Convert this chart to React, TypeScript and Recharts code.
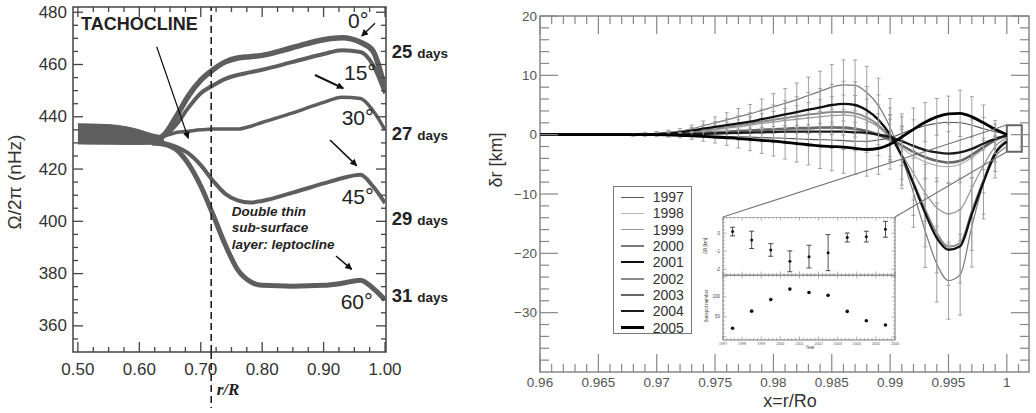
import React from 'react';
import {
  ComposedChart, Line, Area, XAxis, YAxis, ReferenceLine, ReferenceArea, ErrorBar,
  ScatterChart, Scatter
} from 'recharts';

const FONT = '"Liberation Sans", Arial, Helvetica, sans-serif';

// ---------- left panel: rotation rate vs r/R ----------
const radius = [0.5, 0.55, 0.6, 0.62, 0.64, 0.66, 0.68, 0.7, 0.72, 0.74, 0.76, 0.78, 0.8, 0.85, 0.9, 0.93, 0.96, 0.98, 1.0];
const trunkLow = [429.6, 429.5, 429.4, 429.5, 429.8];
const trunkHigh = [437.3, 437.0, 435.0, 433.5, 432.6];
const lat0 = [null, null, null, 431, 433, 440, 448, 454, 458, 461, 462.5, 463, 463.5, 466.5, 469.5, 470.2, 468.5, 465.3, 450.5];
const lat15 = [null, null, null, 431, 432.5, 437, 443.5, 449, 452, 454.5, 456, 457, 458, 461, 464, 465.5, 464.8, 460, 449];
const lat30 = [null, null, null, 431, 432.5, 434, 434.5, 435, 435.3, 435.3, 435.3, 436.3, 437.8, 441.5, 445.5, 447.5, 447, 442.5, 435];
const lat45 = [null, null, null, 430.5, 430, 428.5, 426, 421.5, 415.5, 410.5, 408, 407.2, 407.8, 411, 414.5, 416.5, 417.8, 413.5, 407];
const lat60 = [null, null, null, 430, 429.5, 427.5, 422, 413.5, 402.5, 391, 381.5, 377, 375.5, 375.2, 375.5, 376.3, 377.5, 374.5, 370];
const latNames = ['0', '15', '30', '45', '60'];
const periodNames = ['25', '27', '29', '31'];
const tachocline = 0.717;

// ---------- right panel: δr vs x = r/Ro ----------
const rX = [0.96, 0.965, 0.968, 0.969, 0.97, 0.971, 0.972, 0.973, 0.974, 0.975, 0.976, 0.977, 0.978, 0.979, 0.98, 0.981, 0.982, 0.983, 0.984, 0.985, 0.986, 0.987, 0.988, 0.989, 0.99, 0.991, 0.992, 0.993, 0.994, 0.995, 0.996, 0.997, 0.998, 0.999, 1.0];
const y1997 = [0, 0, 0, 0, 0, -0.05, -0.1, -0.15, -0.2, -0.25, -0.3, -0.35, -0.4, -0.5, -0.55, -0.6, -0.7, -0.8, -0.85, -0.9, -1.0, -1.1, -1.1, -0.9, -0.5, 0.2, 0.9, 1.5, 1.9, 2.1, 2.0, 1.6, 1.0, 0.5, 0.1];
const y1998 = [0, 0, 0, 0, 0, 0.05, 0.1, 0.2, 0.3, 0.4, 0.5, 0.6, 0.7, 0.8, 0.9, 0.9, 1.0, 1.0, 1.1, 1.1, 1.0, 0.8, 0.4, -0.2, -1.1, -2.3, -3.6, -4.6, -5.2, -5.4, -5.0, -3.9, -2.4, -1.0, -0.1];
const y1999 = [0, 0, 0, 0.05, 0.1, 0.2, 0.3, 0.4, 0.6, 0.8, 1.1, 1.3, 1.6, 1.9, 2.1, 2.4, 2.6, 2.8, 3.0, 3.2, 3.3, 3.1, 2.4, 1.3, -0.6, -3.3, -6.5, -9.8, -12.3, -13.3, -12.6, -9.0, -5.2, -2.0, -0.5];
const y2000 = [0, 0, 0, 0.1, 0.2, 0.4, 0.6, 1.0, 1.5, 2.0, 2.5, 3.0, 3.5, 4.1, 4.7, 5.3, 5.9, 6.6, 7.3, 8.0, 8.4, 8.3, 7.1, 4.9, 1.2, -3.8, -9.8, -16.2, -21.8, -24.6, -23.6, -15.5, -8.2, -3.8, -2.0];
const y2001 = [0, 0, 0, 0.05, 0.1, 0.2, 0.4, 0.7, 1.0, 1.3, 1.6, 1.9, 2.2, 2.6, 3.0, 3.4, 3.8, 4.2, 4.6, 5.0, 5.2, 5.0, 4.1, 2.5, 0.0, -3.6, -8.3, -13.2, -17.4, -19.4, -18.8, -13.4, -8.0, -3.2, -1.2];
const y2002 = [0, 0, 0, 0.05, 0.1, 0.2, 0.3, 0.5, 0.8, 1.0, 1.3, 1.6, 1.9, 2.2, 2.5, 2.8, 3.1, 3.4, 3.6, 3.8, 3.8, 3.6, 2.9, 1.6, -0.4, -3.6, -8.0, -12.6, -16.6, -18.9, -18.3, -12.9, -7.6, -3.0, -1.0];
const y2003 = [0, 0, 0, 0, 0, 0.05, 0.1, 0.2, 0.3, 0.4, 0.5, 0.6, 0.7, 0.8, 0.9, 1.0, 1.1, 1.1, 1.2, 1.2, 1.2, 1.0, 0.6, 0.0, -0.8, -1.8, -2.9, -3.8, -4.4, -4.7, -4.4, -3.4, -2.1, -0.9, -0.1];
const y2004 = [0, 0, 0, 0, 0, 0, 0.05, 0.1, 0.15, 0.2, 0.25, 0.3, 0.35, 0.4, 0.45, 0.5, 0.5, 0.5, 0.5, 0.5, 0.5, 0.4, 0.3, 0.0, -0.4, -1.1, -1.9, -2.6, -3.0, -3.2, -3.0, -2.4, -1.5, -0.7, -0.2];
const y2005 = [0, 0, 0, 0, 0, -0.05, -0.1, -0.2, -0.3, -0.4, -0.5, -0.65, -0.8, -0.95, -1.1, -1.3, -1.5, -1.7, -1.9, -2.0, -2.1, -2.3, -2.5, -2.3, -1.6, -0.4, 0.9, 2.1, 3.0, 3.5, 3.6, 3.0, 2.0, 0.9, 0.0];
const e1999 = [null, null, 0.15, 0.2, 0.2, 0.25, 0.3, 0.4, 0.6, 0.8, 1.0, 1.2, 1.4, 1.6, 1.8, 2.0, 2.3, 2.6, 2.9, 3.2, 3.4, 3.5, 3.6, 3.7, 3.9, 4.2, 4.5, 4.8, 5.0, 5.2, 5.3, 5.1, 4.6, 2.6, null];
const e2000 = [null, null, 0.2, 0.25, 0.3, 0.35, 0.4, 0.6, 0.8, 1.0, 1.2, 1.4, 1.6, 1.9, 2.2, 2.5, 2.8, 3.1, 3.4, 3.8, 4.2, 4.3, 4.4, 4.6, 4.9, 5.3, 5.8, 6.2, 6.4, 6.5, 6.8, 6.8, 6.0, 3.5, null];
const e2001 = [null, null, 0.2, 0.2, 0.25, 0.3, 0.3, 0.5, 0.7, 0.9, 1.1, 1.3, 1.5, 1.7, 2.0, 2.3, 2.6, 2.9, 3.2, 3.5, 3.8, 3.9, 4.0, 4.2, 4.5, 4.9, 5.3, 5.7, 5.9, 6.0, 6.2, 6.1, 5.4, 3.0, null];
const e2004 = [null, null, 0.15, 0.2, 0.2, 0.25, 0.3, 0.4, 0.6, 0.8, 1.0, 1.2, 1.4, 1.6, 1.8, 2.0, 2.2, 2.4, 2.6, 2.8, 3.0, 3.1, 3.3, 3.5, 3.8, 4.1, 4.4, 4.7, 4.9, 5.0, 5.1, 4.9, 4.4, 2.5, null];
const e2005 = [null, null, 0.2, 0.25, 0.3, 0.35, 0.4, 0.6, 0.8, 1.0, 1.3, 1.6, 1.9, 2.2, 2.5, 2.8, 3.1, 3.4, 3.8, 4.1, 4.4, 4.4, 4.5, 4.4, 4.2, 3.9, 3.6, 3.3, 3.1, 3.0, 3.9, 3.4, 3.0, 1.5, null];

const years = [1997, 1998, 1999, 2000, 2001, 2002, 2003, 2004, 2005];
const yearValues = [y1997, y1998, y1999, y2000, y2001, y2002, y2003, y2004, y2005];
const yearErrors: any[] = [null, null, e1999, e2000, e2001, null, null, e2004, e2005];
const yearStyles = [
  { stroke: '#555', width: 1.1 },
  { stroke: '#b4b4b4', width: 1.3 },
  { stroke: '#9a9a9a', width: 1.3 },
  { stroke: '#7a7a7a', width: 1.2 },
  { stroke: '#111', width: 2.3 },
  { stroke: '#8a8a8a', width: 2.0 },
  { stroke: '#666', width: 2.6 },
  { stroke: '#1a1a1a', width: 2.3 },
  { stroke: '#000', width: 2.8 },
];
const drawOrder = [1, 2, 3, 0, 5, 6, 4, 7, 8];

// ---------- inset ----------
const deltaR = [0.09, -0.37, -0.93, -1.56, -1.3, -1.08, -0.24, -0.19, 0.22];
const deltaRErr = [0.24, 0.48, 0.35, 0.58, 0.63, 1.0, 0.25, 0.3, 0.44];
const sunspots = [21.5, 64.3, 93.3, 119.6, 111.0, 104.0, 63.7, 40.4, 29.8];

const seq = (a: number, b: number, step: number, digits: number) => {
  const out: number[] = [];
  const n = Math.round((b - a) / step);
  for (let i = 0; i <= n; i++) out.push(+(a + i * step).toFixed(digits));
  return out;
};

const leftRows = radius.map((x, i) => {
  const r: any = { x, lat0: lat0[i], lat15: lat15[i], lat30: lat30[i], lat45: lat45[i], lat60: lat60[i] };
  if (i < trunkLow.length) r.trunk = [trunkLow[i], trunkHigh[i]];
  return r;
});

const rightRows = rX.map((x, i) => {
  const r: any = { x };
  years.forEach((yr, k) => {
    r['y' + yr] = yearValues[k][i];
    if (yearErrors[k]) r['e' + yr] = yearErrors[k][i];
  });
  return r;
});

const insetTop = years.map((yr, i) => ({ x: yr + 0.5, y: deltaR[i], e: deltaRErr[i] }));
const insetBottom = years.map((yr, i) => ({ x: yr + 0.5, y: sunspots[i] }));

type TickCfg = {
  axis: 'x' | 'y'; span: number; isMajor: (v: number) => boolean;
  majorLen: number; minorLen: number; label?: (v: number) => string;
  gap: number; fontSize: number; color: string; stroke: string; sw: number;
};

// inward ticks on both sides of the frame, label only on majors
const makeTick = (c: TickCfg) => (props: any) => {
  const { x, y, payload } = props;
  const v = payload.value;
  const major = c.isMajor(v);
  const len = major ? c.majorLen : c.minorLen;
  const txt = major && c.label ? c.label(v) : '';
  if (c.axis === 'x') {
    return (
      <g>
        <line x1={x} y1={y} x2={x} y2={y - len} stroke={c.stroke} strokeWidth={c.sw} />
        <line x1={x} y1={y - c.span} x2={x} y2={y - c.span + len} stroke={c.stroke} strokeWidth={c.sw} />
        {txt ? <text x={x} y={y + c.gap} textAnchor="middle" fontSize={c.fontSize} fill={c.color} fontFamily={FONT}>{txt}</text> : null}
      </g>
    );
  }
  return (
    <g>
      <line x1={x} y1={y} x2={x + len} y2={y} stroke={c.stroke} strokeWidth={c.sw} />
      <line x1={x + c.span} y1={y} x2={x + c.span - len} y2={y} stroke={c.stroke} strokeWidth={c.sw} />
      {txt ? <text x={x - c.gap} y={y} textAnchor="end" dominantBaseline="central" fontSize={c.fontSize} fill={c.color} fontFamily={FONT}>{txt}</text> : null}
    </g>
  );
};

const isInt = (v: number, k: number) => Math.abs(v * k - Math.round(v * k)) < 1e-6;
const minusFmt = (v: number) => (v < 0 ? '\u2212' + Math.abs(v) : String(v));

const LeftChart = () => (
  <ComposedChart width={470} height={413} data={leftRows} margin={{ top: 7, right: 84, bottom: 31, left: 13 }}>
    <XAxis
      dataKey="x" type="number" domain={[0.492, 1.0016]} allowDataOverflow
      ticks={seq(0.5, 1.0, 0.025, 3)} interval={0} height={30}
      axisLine={false} tickLine={false} tickSize={0} tickMargin={0}
      tick={makeTick({ axis: 'x', span: 345, isMajor: v => isInt(v, 10), majorLen: 10, minorLen: 5, label: v => v.toFixed(2), gap: 23, fontSize: 17, color: '#333', stroke: '#444', sw: 1.3 })}
    />
    <YAxis
      type="number" domain={[350, 482]} allowDataOverflow
      ticks={seq(355, 480, 5, 0)} interval={0} width={60}
      axisLine={false} tickLine={false} tickSize={0} tickMargin={0}
      tick={makeTick({ axis: 'y', span: 313, isMajor: v => v % 20 === 0, majorLen: 10, minorLen: 5, label: v => String(v), gap: 6, fontSize: 17, color: '#333', stroke: '#444', sw: 1.3 })}
    />
    <Area dataKey="trunk" type="monotone" stroke="#5e5e5e" strokeWidth={1} fill="#5e5e5e" fillOpacity={1} isAnimationActive={false} />
    <Line dataKey="lat60" type="monotone" stroke="#5e5e5e" strokeWidth={5} dot={false} activeDot={false} isAnimationActive={false} />
    <Line dataKey="lat45" type="monotone" stroke="#5e5e5e" strokeWidth={4} dot={false} activeDot={false} isAnimationActive={false} />
    <Line dataKey="lat30" type="monotone" stroke="#5e5e5e" strokeWidth={3.5} dot={false} activeDot={false} isAnimationActive={false} />
    <Line dataKey="lat15" type="monotone" stroke="#5e5e5e" strokeWidth={4} dot={false} activeDot={false} isAnimationActive={false} />
    <Line dataKey="lat0" type="monotone" stroke="#5e5e5e" strokeWidth={5.5} dot={false} activeDot={false} isAnimationActive={false} />
    <ReferenceLine x={tachocline} stroke="#222" strokeWidth={1.6} strokeDasharray="7 4" />
    <ReferenceArea x1={0.492} x2={1.0016} y1={350} y2={482} fill="none" fillOpacity={0} stroke="#444" strokeWidth={1.5} ifOverflow="visible" />
  </ComposedChart>
);

const RightChart = () => (
  <ComposedChart width={556} height={413} data={rightRows} margin={{ top: 16, right: 7, bottom: 16, left: 10 }}>
    <XAxis
      dataKey="x" type="number" domain={[0.96, 1.0019]} allowDataOverflow
      ticks={seq(0.96, 1.001, 0.001, 3)} interval={0} height={25}
      axisLine={false} tickLine={false} tickSize={0} tickMargin={0}
      tick={makeTick({ axis: 'x', span: 356, isMajor: v => isInt(v, 200), majorLen: 18, minorLen: 8, label: v => String(+v.toFixed(3)), gap: 15, fontSize: 13.5, color: '#555', stroke: '#888', sw: 1.2 })}
    />
    <YAxis
      type="number" domain={[-40, 20]} allowDataOverflow
      ticks={seq(-38, 20, 2, 0)} interval={0} width={50}
      axisLine={false} tickLine={false} tickSize={0} tickMargin={0}
      tick={makeTick({ axis: 'y', span: 489, isMajor: v => v % 10 === 0, majorLen: 18, minorLen: 9, label: minusFmt, gap: 3, fontSize: 13.5, color: '#555', stroke: '#888', sw: 1.2 })}
    />
    {drawOrder.map(k => (
      <Line
        key={years[k]}
        dataKey={'y' + years[k]}
        type="monotone"
        stroke={yearStyles[k].stroke}
        strokeWidth={yearStyles[k].width}
        dot={false}
        activeDot={false}
        isAnimationActive={false}
      >
        {yearErrors[k] ? <ErrorBar dataKey={'e' + years[k]} direction="y" width={2} stroke="#a0a0a0" strokeWidth={1} /> : null}
      </Line>
    ))}
    <ReferenceArea x1={1.0} x2={1.00128} y1={-2.9} y2={1.6} fill="#fff" fillOpacity={1} stroke="#666" strokeWidth={2} ifOverflow="visible" />
    <ReferenceArea x1={0.96} x2={1.0019} y1={-40} y2={20} fill="none" fillOpacity={0} stroke="#888" strokeWidth={1.5} ifOverflow="visible" />
  </ComposedChart>
);

const dot = (r: number) => (p: any) => <circle cx={p.cx} cy={p.cy} r={r} fill="#111" />;

const InsetTop = () => (
  <ScatterChart width={197} height={59} margin={{ top: 0, right: 2, bottom: 0, left: 0 }}>
    <XAxis
      dataKey="x" type="number" domain={[1997, 2006]} allowDataOverflow
      ticks={seq(1997, 2006, 0.2, 1)} interval={0} height={1}
      axisLine={false} tickLine={false} tickSize={0} tickMargin={0}
      tick={makeTick({ axis: 'x', span: 58, isMajor: v => isInt(v, 1), majorLen: 3.5, minorLen: 1.8, gap: 0, fontSize: 4, color: '#555', stroke: '#777', sw: 0.6 })}
    />
    <YAxis
      dataKey="y" type="number" domain={[-2.32, 0.9]} allowDataOverflow
      ticks={seq(-2.2, 0.8, 0.2, 1)} interval={0} width={23}
      axisLine={false} tickLine={false} tickSize={0} tickMargin={0}
      tick={makeTick({ axis: 'y', span: 172, isMajor: v => isInt(v, 1), majorLen: 3.5, minorLen: 1.8, label: v => String(v), gap: 3, fontSize: 4.5, color: '#444', stroke: '#777', sw: 0.6 })}
    />
    <Scatter data={insetTop} shape={dot(1.5)} isAnimationActive={false}>
      <ErrorBar dataKey="e" direction="y" width={2.5} stroke="#222" strokeWidth={0.8} />
    </Scatter>
    <ReferenceArea x1={1997} x2={2006} y1={-2.32} y2={0.9} fill="none" fillOpacity={0} stroke="#777" strokeWidth={1} ifOverflow="visible" />
  </ScatterChart>
);

const InsetBottom = () => (
  <ScatterChart width={207} height={75} margin={{ top: 0, right: 12, bottom: 0, left: 0 }}>
    <XAxis
      dataKey="x" type="number" domain={[1997, 2006]} allowDataOverflow
      ticks={seq(1997, 2006, 0.2, 1)} interval={0} height={10}
      axisLine={false} tickLine={false} tickSize={0} tickMargin={0}
      tick={makeTick({ axis: 'x', span: 65, isMajor: v => isInt(v, 1), majorLen: 3.5, minorLen: 1.8, label: v => String(v), gap: 5, fontSize: 3.6, color: '#555', stroke: '#777', sw: 0.6 })}
    />
    <YAxis
      dataKey="y" type="number" domain={[-8, 155]} allowDataOverflow
      ticks={seq(0, 150, 10, 0)} interval={0} width={23}
      axisLine={false} tickLine={false} tickSize={0} tickMargin={0}
      tick={makeTick({ axis: 'y', span: 172, isMajor: v => v % 50 === 0, majorLen: 3.5, minorLen: 1.8, label: v => (v === 50 || v === 100 ? String(v) : ''), gap: 3, fontSize: 4.5, color: '#444', stroke: '#777', sw: 0.6 })}
    />
    <Scatter data={insetBottom} shape={dot(1.8)} isAnimationActive={false} />
    <ReferenceArea x1={1997} x2={2006} y1={-8} y2={155} fill="none" fillOpacity={0} stroke="#777" strokeWidth={1} ifOverflow="visible" />
  </ScatterChart>
);

const Legend9 = () => (
  <div style={{ position: 'absolute', left: 612.7, top: 186, width: 79.6, height: 148, border: '1px solid #777', boxSizing: 'border-box', background: '#fff', paddingTop: 2 }}>
    {years.map((yr, k) => (
      <div key={yr} style={{ height: 16.3, display: 'flex', alignItems: 'center' }}>
        <div style={{ marginLeft: 7, width: 23, height: yearStyles[k].width, background: yearStyles[k].stroke }} />
        <span style={{ marginLeft: 9, fontFamily: FONT, fontSize: 14, color: '#333', lineHeight: 1 }}>{yr}</span>
      </div>
    ))}
  </div>
);

const latPos = [
  { x: 348, y: 28 }, { x: 344, y: 80 }, { x: 341.7, y: 125 }, { x: 341.7, y: 204 }, { x: 340.7, y: 309 },
];
const periodY = [58.3, 140, 225, 301.7];

const Overlay = () => (
  <svg width={1036} height={413} style={{ position: 'absolute', left: 0, top: 0, pointerEvents: 'none' }}>
    <defs>
      <marker id="ah" viewBox="0 0 10 10" refX="9" refY="5" markerUnits="userSpaceOnUse" markerWidth="8" markerHeight="7" orient="auto">
        <path d="M0,0 L10,5 L0,10 z" fill="#111" />
      </marker>
    </defs>
    {/* left panel annotations */}
    <text x={81} y={30} fontFamily={FONT} fontWeight="bold" fontSize={18} fill="#222">TACHOCLINE</text>
    <line x1={156.7} y1={46.7} x2={188.3} y2={138.3} stroke="#111" strokeWidth={1.2} markerEnd="url(#ah)" />
    {latNames.map((n, i) => (
      <text key={n} x={latPos[i].x} y={latPos[i].y} fontFamily={FONT} fontSize={21} fill="#222">
        {n}<tspan fontSize={22}>°</tspan>
      </text>
    ))}
    <line x1={375} y1={23.3} x2={361.7} y2={36} stroke="#111" strokeWidth={1.3} markerEnd="url(#ah)" />
    <line x1={315} y1={75} x2={343.3} y2={88.3} stroke="#111" strokeWidth={2} markerEnd="url(#ah)" />
    <line x1={330} y1={140} x2={356.7} y2={165.7} stroke="#111" strokeWidth={1.6} markerEnd="url(#ah)" />
    <line x1={336} y1={256} x2={351.7} y2={269.3} stroke="#111" strokeWidth={1.6} markerEnd="url(#ah)" />
    {periodNames.map((p, i) => (
      <text key={p} x={391.7} y={periodY[i]} fontFamily={FONT} fontWeight="bold" fill="#222">
        <tspan fontSize={18.5}>{p}</tspan>
        <tspan fontSize={13.5} dx={5}>days</tspan>
      </text>
    ))}
    <g fontFamily={FONT} fontWeight="bold" fontStyle="italic" fontSize={13.5} fill="#222">
      <text x={231.7} y={215.5}>Double thin</text>
      <text x={231.7} y={232}>sub-surface</text>
      <text x={231.7} y={248.5}>layer: leptocline</text>
    </g>
    <line x1={211.2} y1={352} x2={211.2} y2={408} stroke="#222" strokeWidth={1.6} strokeDasharray="7 4" />
    <text x={216.7} y={395} fontFamily='"Liberation Serif", "Times New Roman", serif' fontWeight="bold" fontStyle="italic" fontSize={17} fill="#222">r/R</text>
    <text transform="translate(21,182) rotate(-90)" textAnchor="middle" fontFamily={FONT} fontSize={19} fill="#333">Ω/2π (nHz)</text>
    {/* right panel annotations */}
    <text transform="translate(502,160) rotate(-90)" textAnchor="middle" fontFamily={FONT} fontSize={18} fill="#333">δr [km]</text>
    <text x={790} y={407} textAnchor="middle" fontFamily={FONT} fontSize={18} fill="#333">x=r/Ro</text>
    <line x1={723} y1={217} x2={1006.8} y2={125} stroke="#777" strokeWidth={1.2} />
    <line x1={895} y1={217} x2={1006.8} y2={151.7} stroke="#777" strokeWidth={1.2} />
    <text transform="translate(707,246) rotate(-90)" textAnchor="middle" fontFamily={FONT} fontSize={4.5} fill="#444">ΔR [km]</text>
    <text transform="translate(708,306) rotate(-90)" textAnchor="middle" fontFamily={FONT} fontSize={4.5} fill="#444">Sunspot number</text>
    <text x={810} y={349} textAnchor="middle" fontFamily={FONT} fontSize={4.5} fill="#444">Year</text>
  </svg>
);

export default function App() {
  return (
    <div style={{ position: 'absolute', left: 0, top: 0, width: 1036, height: 413, background: '#fff', overflow: 'hidden' }}>
      <div style={{ position: 'absolute', left: 0, top: 0 }}><LeftChart /></div>
      <div style={{ position: 'absolute', left: 480, top: 0 }}><RightChart /></div>
      <Legend9 />
      <div style={{ position: 'absolute', left: 700, top: 217, background: '#fff' }}><InsetTop /></div>
      <div style={{ position: 'absolute', left: 700, top: 275 }}><InsetBottom /></div>
      <Overlay />
    </div>
  );
}
